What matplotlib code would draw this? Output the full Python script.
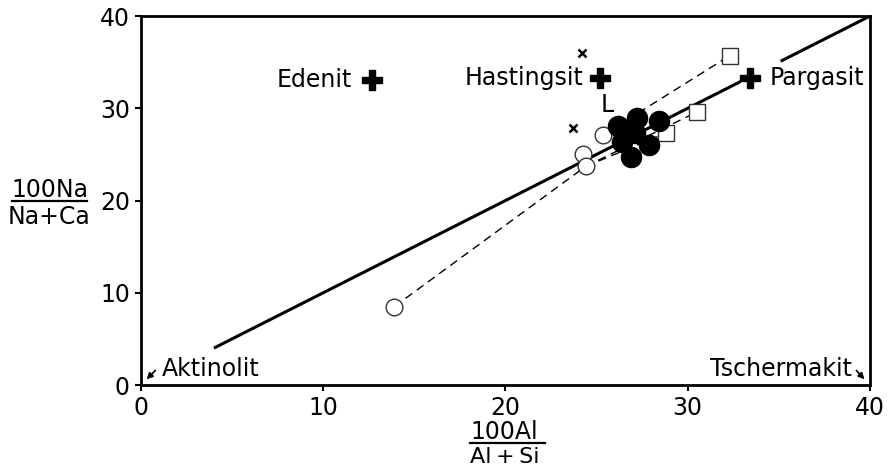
import matplotlib
matplotlib.use("Agg")
import matplotlib.pyplot as plt

# --- data ---
ref_line_x1 = [4.0, 32.9]
ref_line_x2 = [35.1, 40.0]

end_members = ["Edenit", "Hastingsit", "Pargasit"]
end_x = [12.7, 25.2, 33.4]
end_y = [33.1, 33.3, 33.3]

x_pts_x = [24.2, 23.7]
x_pts_y = [36.0, 27.9]

open_x = [13.9, 24.25, 24.4, 25.35]
open_y = [8.5, 25.0, 23.7, 27.1]

square_x = [32.3, 30.5, 28.8]
square_y = [35.7, 29.6, 27.3]

filled_x = [26.2, 27.2, 28.4, 27.1, 26.4, 27.9, 26.9]
filled_y = [28.1, 28.9, 28.6, 27.3, 26.3, 26.0, 24.7]

# dashed tie lines (start x, start y, end x, end y)
tie_x0 = [13.9, 24.4, 24.4, 25.35]
tie_y0 = [8.5, 23.7, 23.7, 27.1]
tie_x1 = [24.4, 28.8, 30.5, 32.3]
tie_y1 = [23.7, 27.3, 29.6, 35.7]

xticks = [0, 10, 20, 30, 40]
yticks = [0, 10, 20, 30, 40]

plt.rcParams['font.family'] = ['DejaVu Sans']
FS = 17

fig = plt.figure(figsize=(8.9, 4.72), dpi=100)
ax = fig.add_axes([0.1584, 0.1843, 0.8191, 0.7817])
ax.set_xlim(0, 40)
ax.set_ylim(0, 40)

for x0, y0, x1, y1 in zip(tie_x0, tie_y0, tie_x1, tie_y1):
    ax.plot([x0, x1], [y0, y1], color='black', lw=1.0, ls=(0, (6, 4)), zorder=2)

ax.plot(ref_line_x1, ref_line_x1, color='black', lw=2.2, zorder=3, solid_capstyle='butt')
ax.plot(ref_line_x2, ref_line_x2, color='black', lw=2.2, zorder=3, solid_capstyle='butt')

ax.plot(end_x, end_y, ls='none', marker='P', ms=15, color='black', mec='black', zorder=5)
ax.plot(x_pts_x, x_pts_y, ls='none', marker='x', ms=6, mew=1.8, color='black', zorder=5)
ax.plot(open_x, open_y, ls='none', marker='o', ms=12, mfc='white', mec='#333333', mew=1.0, zorder=4)
ax.plot(square_x, square_y, ls='none', marker='s', ms=11.5, mfc='white', mec='#333333', mew=1.0, zorder=4)
ax.plot(filled_x, filled_y, ls='none', marker='o', ms=14.5, color='black', zorder=6)

# labels for end members
ax.text(end_x[0] - 1.1, end_y[0], end_members[0], ha='right', va='center', fontsize=FS)
ax.text(end_x[1] - 0.9, end_y[1], end_members[1], ha='right', va='center', fontsize=FS)
ax.text(end_x[2] + 1.1, end_y[2], end_members[2], ha='left', va='center', fontsize=FS)
ax.text(25.6, 30.4, "L", ha='center', va='center', fontsize=FS)

# corner labels with arrows
ax.annotate("", xy=(0.2, 0.4), xytext=(0.9, 1.8),
            arrowprops=dict(arrowstyle='-|>', color='black', lw=1.2, mutation_scale=9))
ax.text(1.15, 1.7, "Aktinolit", ha='left', va='center', fontsize=FS)
ax.annotate("", xy=(39.8, 0.4), xytext=(39.15, 1.8),
            arrowprops=dict(arrowstyle='-|>', color='black', lw=1.2, mutation_scale=9))
ax.text(39.0, 1.7, "Tschermakit", ha='right', va='center', fontsize=FS)

ax.set_xticks(xticks)
ax.set_yticks(yticks)
ax.set_xticklabels([str(t) for t in xticks])
ax.set_yticklabels([str(t) for t in yticks])
ax.tick_params(axis='both', direction='out', length=4, width=1.5, labelsize=FS, pad=4)
for s in ax.spines.values():
    s.set_linewidth(2.0)

# axis labels as fractions
fig.text(0.0556, 0.5826, "100Na", ha='center', va='baseline', fontsize=FS)
fig.lines.append(plt.Line2D([0.0135, 0.0978], [0.574, 0.574], transform=fig.transFigure, color='black', lw=1.6))
fig.text(0.0556, 0.565, "Na+Ca", ha='center', va='top', fontsize=FS)

fig.text(0.567, 0.0700, "100Al", ha='center', va='baseline', fontsize=FS)
fig.lines.append(plt.Line2D([0.528, 0.612], [0.0615, 0.0615], transform=fig.transFigure, color='black', lw=1.6))
fig.text(0.567, 0.0525, "Al\u2009+\u2009Si", ha='center', va='top', fontsize=16)

fig.savefig("out.png", dpi=100, facecolor='white')
